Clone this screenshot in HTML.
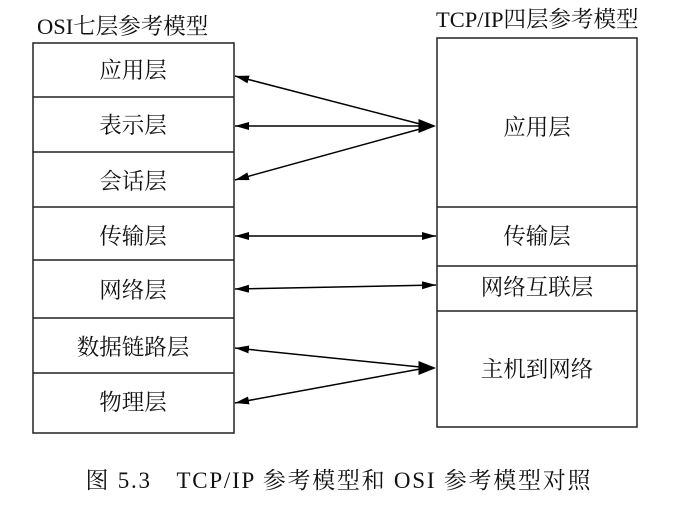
<!DOCTYPE html>
<html><head><meta charset="utf-8"><style>
body{margin:0;background:#fff;}
svg text{font-family:"Liberation Serif","Noto Serif CJK SC","Noto Sans CJK SC",serif;fill:#111;}
</style></head><body>
<svg width="676" height="509" viewBox="0 0 676 509" xmlns="http://www.w3.org/2000/svg">
<defs>
<marker id="a" viewBox="0 0 14 8" refX="14" refY="4" markerWidth="14" markerHeight="8" markerUnits="userSpaceOnUse" orient="auto-start-reverse">
<path d="M0,0 L14,4 L0,8 Z" fill="#000"/></marker>
<marker id="b" viewBox="0 0 10 8" refX="10" refY="4" markerWidth="18" markerHeight="14" markerUnits="userSpaceOnUse" orient="auto">
<path d="M0,0 L10,4 L0,8 Z" fill="#000"/></marker>
</defs>
<text x="37" y="34" font-size="22.5">OSI七层参考模型</text>
<text x="436" y="27" font-size="22.5">TCP/IP四层参考模型</text>
<g fill="none" stroke="#222" stroke-width="1.5">
<rect x="33" y="43" width="201" height="390"/>
<line x1="33" y1="97" x2="234" y2="97"/>
<line x1="33" y1="152" x2="234" y2="152"/>
<line x1="33" y1="207" x2="234" y2="207"/>
<line x1="33" y1="260" x2="234" y2="260"/>
<line x1="33" y1="318" x2="234" y2="318"/>
<line x1="33" y1="373" x2="234" y2="373"/>
<rect x="437" y="38" width="200" height="389"/>
<line x1="437" y1="207" x2="637" y2="207"/>
<line x1="437" y1="266" x2="637" y2="266"/>
<line x1="437" y1="311" x2="637" y2="311"/>
</g>
<g font-size="22.5" text-anchor="middle">
<text x="133" y="78">应用层</text>
<text x="133" y="133">表示层</text>
<text x="133" y="189">会话层</text>
<text x="133" y="244">传输层</text>
<text x="133" y="298">网络层</text>
<text x="133" y="355">数据链路层</text>
<text x="133" y="410">物理层</text>
<text x="537" y="135">应用层</text>
<text x="537" y="244">传输层</text>
<text x="537" y="295">网络互联层</text>
<text x="537" y="377">主机到网络</text>
</g>
<g stroke="#000" stroke-width="1.5">
<line x1="235" y1="76" x2="420" y2="124" marker-start="url(#a)"/>
<line x1="235" y1="126" x2="420" y2="126" marker-start="url(#a)"/>
<line x1="235" y1="180" x2="420" y2="129" marker-start="url(#a)"/>
<line x1="236" y1="126" x2="436" y2="126" stroke-width="0" marker-end="url(#b)"/>
<line x1="235" y1="236" x2="436" y2="236" marker-start="url(#a)" marker-end="url(#a)"/>
<line x1="235" y1="289" x2="436" y2="285" marker-start="url(#a)" marker-end="url(#a)"/>
<line x1="235" y1="348" x2="420" y2="367" marker-start="url(#a)"/>
<line x1="235" y1="403" x2="420" y2="369" marker-start="url(#a)"/>
<line x1="236" y1="368" x2="436" y2="368" stroke-width="0" marker-end="url(#b)"/>
</g>
<text x="338" y="488" font-size="23" text-anchor="middle" textLength="505" lengthAdjust="spacing">图 5.3　TCP/IP 参考模型和 OSI 参考模型对照</text>
</svg>
</body></html>
